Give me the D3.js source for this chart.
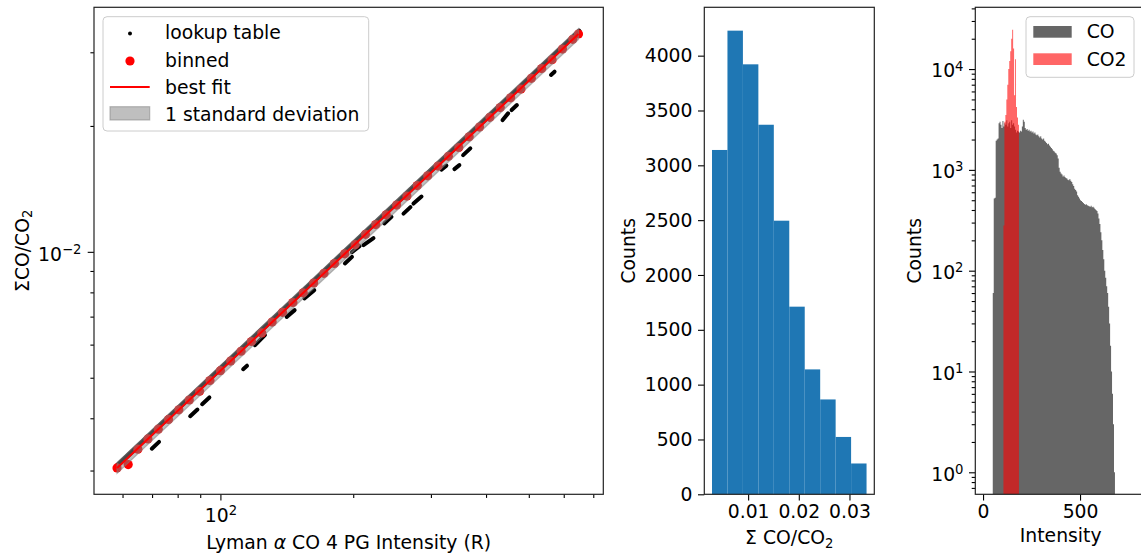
<!DOCTYPE html>
<html lang="en">
<head>
<meta charset="utf-8">
<title>CO/CO2 lookup</title>
<script src="https://d3js.org/d3.v7.min.js"></script>
<style>
  body { margin: 0; background: #fff; }
  text { font-family: "DejaVu Sans", sans-serif; }
</style>
</head>
<body>
<script>
// ---- panel 1: ratio vs Lyman alpha intensity (log-log)
var lutMainI = [58.5, 70, 85, 100, 130, 170, 220, 290, 380, 500, 650];
var lutMainR = [0.003090, 0.003692, 0.004474, 0.005257, 0.006822, 0.008902, 0.011498, 0.015126, 0.019772, 0.025961, 0.033681];
// offset clusters of lookup table points (start / end of each short run)
var dashI0 = [69.9, 85.4, 90.9, 112.6, 119.8, 141.3, 155.0, 191.5, 198.6, 211.0, 235.2, 260.0, 273.9, 316.9, 339.1, 354.9, 436.2, 457.1, 561.4];
var dashR0 = [0.003383, 0.004045, 0.004322, 0.00524, 0.005981, 0.006991, 0.007736, 0.009381, 0.009983, 0.010376, 0.011693, 0.012343, 0.013043, 0.015727, 0.015768, 0.017031, 0.020654, 0.021827, 0.026473];
var dashI1 = [72.6, 88.7, 94.4, 114.9, 126.1, 147.3, 163.2, 198.7, 206.7, 222.3, 244.2, 269.6, 285.6, 325.2, 348.0, 368.5, 448.7, 469.9, 571.9];
var dashR1 = [0.003512, 0.004198, 0.004485, 0.005342, 0.006322, 0.007254, 0.008098, 0.009728, 0.01032, 0.010784, 0.012127, 0.012793, 0.013555, 0.016075, 0.016119, 0.017673, 0.021432, 0.022439, 0.02696];

var binI = [58.3, 61.8, 65.0, 68.5, 72.3, 76.3, 80.5, 85.0, 89.7, 94.7, 100, 105.5, 111.4, 117.6, 124.1, 131.0, 138.3, 146.0, 154.1, 162.7, 171.7, 181.3, 191.3, 202.0, 213.2, 225.0, 237.6, 250.8, 264.7, 279.4, 295.0, 311.4, 328.7, 347.0, 366.3, 386.6, 408.1, 430.8, 454.8, 480.0, 506.7, 534.9, 564.6, 596.0, 629.1, 648.0];
var binR = [0.003043, 0.00310, 0.003375, 0.003571, 0.003767, 0.003974, 0.004191, 0.004423, 0.004640, 0.004924, 0.005197, 0.005481, 0.005785, 0.006104, 0.006400, 0.006794, 0.007169, 0.007565, 0.007981, 0.008423, 0.008885, 0.009378, 0.009891, 0.010400, 0.011013, 0.011618, 0.012263, 0.012939, 0.013590, 0.014402, 0.015199, 0.016037, 0.016921, 0.017760, 0.018840, 0.019876, 0.020972, 0.022129, 0.023352, 0.024500, 0.025994, 0.027429, 0.028800, 0.030536, 0.032218, 0.033178];

var fitI = [58.3, 648];
var fitR = [0.003043, 0.033178];

var sdI  = [58.3, 100, 200, 400, 648];
var sdLo = [0.002952, 0.005039, 0.01002, 0.01994, 0.03218];
var sdHi = [0.003134, 0.005351, 0.01064, 0.02118, 0.03417];

var x1Major = [100];
var x1Minor = [60, 70, 80, 90, 200, 300, 400, 500, 600, 700];
var y1Major = [0.01];
var y1Minor = [0.003, 0.004, 0.005, 0.006, 0.007, 0.008, 0.009, 0.02, 0.03];

// ---- panel 2: histogram of ratio
var ratioEdges  = [0.00287, 0.00592, 0.00897, 0.01202, 0.01507, 0.01812, 0.02117, 0.02422, 0.02727, 0.03032, 0.03337];
var ratioCounts = [3140, 4228, 3921, 3370, 2495, 1711, 1139, 865, 523, 281];
var x2Ticks = [0.01, 0.02, 0.03];
var y2Ticks = [0, 500, 1000, 1500, 2000, 2500, 3000, 3500, 4000];

// ---- panel 3: intensity histograms (bins of 5 R)
var binW = 5;
var coStart = 50;
var coCounts = [60, 520, 530, 1950, 2000, 2050, 2900, 3000, 2800, 2600,
  3050, 2700, 2900, 2800, 3100, 2700, 2900, 3000, 2600, 3100,
  2800, 2900, 2700, 2500, 2350, 2450, 2400, 2350, 2450, 2400,
  2700, 3150, 3000, 2600, 2500, 2550, 2450, 2500, 2400, 2450,
  2350, 2400, 2300, 2350, 2250, 2200, 2250, 2150, 2100, 2150,
  2050, 2000, 2050, 1950, 1900, 1850, 1800, 1820, 1750, 1700,
  1650, 1600, 1550, 1520, 1480, 1450, 1400, 1300, 1050, 960,
  920, 900, 860, 880, 850, 830, 820, 800, 790, 810,
  780, 760, 720, 690, 650, 630, 610, 560, 540, 520,
  500, 490, 480, 470, 460, 450, 455, 445, 440, 435,
  430, 440, 425, 430, 420, 410, 400, 390, 370, 330,
  290, 240, 200, 160, 130, 100, 85, 70, 60, 44,
  30, 18, 10, 6, 3, 1];
var co2Start = 105;
var co2Counts = [280, 3000, 3500, 5000, 7000, 10000, 12000, 15000, 20000, 24500, 16000, 5500, 12500, 4200, 3300, 2800];
var x3Ticks = [0, 500];
var y3Major = [1, 10, 100, 1000, 10000];
var y3Minor = [0.7, 0.8, 0.9, 2, 3, 4, 5, 6, 7, 8, 9, 20, 30, 40, 50, 60, 70, 80, 90,
  200, 300, 400, 500, 600, 700, 800, 900, 2000, 3000, 4000, 5000, 6000, 7000, 8000, 9000,
  20000, 30000, 40000];

var w = 1141, h = 555;
var yTop = 7.3, yBot = 494.3;
var p1 = {l: 94, r: 603.3}, p2 = {l: 704.3, r: 874.3}, p3 = {l: 975.3, r: 1146};
var fs = 18.8, fsSup = 13.2;

var svg = d3.select("body").append("svg")
  .attr("width", w).attr("height", h)
  .style("font-size", fs + "px");

var x1 = d3.scaleLog().domain([51.7, 737.6]).range([p1.l, p1.r]);
var y1 = d3.scaleLog().domain([0.002632, 0.03843]).range([yBot, yTop]);
var x2 = d3.scaleLinear().domain([0.00135, 0.0349]).range([p2.l, p2.r]);
var y2 = d3.scaleLinear().domain([0, 4441]).range([yBot, yTop]);
var x3 = d3.scaleLinear().domain([-40, 840]).range([p3.l, p3.r]);
var y3 = d3.scaleLog().domain([0.605, 41000]).range([yBot, yTop]);

function styleAxis(g) {
  g.attr("font-size", null).attr("font-family", null);
  g.select(".domain").remove();
  g.selectAll(".tick line").attr("stroke", "#000").attr("stroke-width", 1.1);
  g.selectAll(".tick text").attr("fill", "#000");
  return g;
}
function powLabels(g, exps) {
  g.selectAll(".tick text").each(function(d, i) {
    var t = d3.select(this).text(null);
    t.append("tspan").text("10");
    t.append("tspan").attr("dy", -6.8).style("font-size", fsSup + "px").text(exps[i]);
  });
}

var defs = svg.append("defs");
defs.append("clipPath").attr("id", "c1").append("rect")
  .attr("x", p1.l).attr("y", yTop).attr("width", p1.r - p1.l).attr("height", yBot - yTop);
defs.append("clipPath").attr("id", "c3").append("rect")
  .attr("x", p3.l).attr("y", yTop).attr("width", p3.r - p3.l).attr("height", yBot - yTop);

// ================= panel 1
var g1 = svg.append("g").attr("clip-path", "url(#c1)");
var lineGen = d3.line().x(d => x1(d[0])).y(d => y1(d[1]));

g1.append("path")
  .attr("d", lineGen(lutMainI.map((v, i) => [v, lutMainR[i]])))
  .attr("fill", "none").attr("stroke", "#111").attr("stroke-width", 5)
  .attr("stroke-linecap", "round");

g1.selectAll("line.dash").data(dashI0).enter().append("line")
  .attr("class", "dash")
  .attr("x1", (d, i) => x1(dashI0[i])).attr("y1", (d, i) => y1(dashR0[i]))
  .attr("x2", (d, i) => x1(dashI1[i])).attr("y2", (d, i) => y1(dashR1[i]))
  .attr("stroke", "#000").attr("stroke-width", 4).attr("stroke-linecap", "round");

g1.selectAll("circle.bin").data(binI).enter().append("circle")
  .attr("class", "bin")
  .attr("cx", d => x1(d)).attr("cy", (d, i) => y1(binR[i]))
  .attr("r", 4.6).attr("fill", "#ff0000");

var band = d3.area().x(d => x1(d[0])).y0(d => y1(d[1])).y1(d => y1(d[2]));
g1.append("path")
  .attr("d", band(sdI.map((v, i) => [v, sdLo[i], sdHi[i]])))
  .attr("fill", "#808080").attr("fill-opacity", 0.5)
  .attr("stroke", "#808080").attr("stroke-opacity", 0.5).attr("stroke-width", 1.2);

g1.append("path")
  .attr("d", lineGen(fitI.map((v, i) => [v, fitR[i]])))
  .attr("fill", "none").attr("stroke", "#ff0000").attr("stroke-width", 2);

var ax = svg.append("g").attr("transform", `translate(0,${yBot})`)
  .call(d3.axisBottom(x1).tickValues(x1Major).tickSize(6.3).tickSizeOuter(0).tickPadding(4.6));
styleAxis(ax);
ax.selectAll(".tick text").attr("y", 28).attr("dy", 0);
powLabels(ax, ["2"]);
styleAxis(svg.append("g").attr("transform", `translate(0,${yBot})`)
  .call(d3.axisBottom(x1).tickValues(x1Minor).tickSize(3.6).tickSizeOuter(0).tickFormat("")));

var ay = svg.append("g").attr("transform", `translate(${p1.l},0)`)
  .call(d3.axisLeft(y1).tickValues(y1Major).tickSize(6.3).tickSizeOuter(0).tickPadding(6.3));
styleAxis(ay);
ay.selectAll(".tick text").attr("dy", "0.44em");
powLabels(ay, ["\u22122"]);
styleAxis(svg.append("g").attr("transform", `translate(${p1.l},0)`)
  .call(d3.axisLeft(y1).tickValues(y1Minor).tickSize(3.6).tickSizeOuter(0).tickFormat("")));

// legend 1
var lg = svg.append("g");
lg.append("rect").attr("x", 103).attr("y", 16.7).attr("width", 265.7).attr("height", 114.3)
  .attr("rx", 4).attr("fill", "#fff").attr("fill-opacity", 0.8)
  .attr("stroke", "#cccccc").attr("stroke-width", 1);
lg.append("circle").attr("cx", 130).attr("cy", 33.5).attr("r", 2).attr("fill", "#000");
lg.append("circle").attr("cx", 130).attr("cy", 61).attr("r", 4.6).attr("fill", "#ff0000");
lg.append("line").attr("x1", 110).attr("x2", 149.7).attr("y1", 87).attr("y2", 87)
  .attr("stroke", "#ff0000").attr("stroke-width", 2);
lg.append("rect").attr("x", 110).attr("y", 106.7).attr("width", 39.7).attr("height", 13.3)
  .attr("fill", "#808080").attr("fill-opacity", 0.5)
  .attr("stroke", "#808080").attr("stroke-opacity", 0.5).attr("stroke-width", 1.2);
var legTexts = ["lookup table", "binned", "best fit", "1 standard deviation"];
var legBase = [39, 66.7, 94, 120.7];
lg.selectAll("text").data(legTexts).enter().append("text")
  .attr("x", 165).attr("y", (d, i) => legBase[i]).text(d => d);

// ================= panel 2
svg.append("g").selectAll("rect").data(ratioCounts).enter().append("rect")
  .attr("x", (d, i) => x2(ratioEdges[i]))
  .attr("width", (d, i) => x2(ratioEdges[i + 1]) - x2(ratioEdges[i]))
  .attr("y", d => y2(d))
  .attr("height", d => y2(0) - y2(d))
  .attr("fill", "#1f77b4");

styleAxis(svg.append("g").attr("transform", `translate(0,${yBot})`)
  .call(d3.axisBottom(x2).tickValues(x2Ticks).tickSize(6.3).tickSizeOuter(0).tickPadding(4.2)
    .tickFormat(d3.format(".2f"))));
styleAxis(svg.append("g").attr("transform", `translate(${p2.l},0)`)
  .call(d3.axisLeft(y2).tickValues(y2Ticks).tickSize(6.3).tickSizeOuter(0).tickPadding(5.5)
    .tickFormat(d3.format("d"))));

// ================= panel 3
function histPts(start, counts) {
  var pts = [[x3(start), yBot]];
  counts.forEach(function(c, i) {
    var lo = start + i * binW;
    pts.push([x3(lo), y3(c)], [x3(lo + binW), y3(c)]);
  });
  pts.push([x3(start + counts.length * binW), yBot]);
  return pts;
}
var g3 = svg.append("g").attr("clip-path", "url(#c3)");
g3.append("path").attr("d", d3.line()(histPts(coStart, coCounts)) + "Z")
  .attr("fill", "#000").attr("fill-opacity", 0.6);
g3.append("path").attr("d", d3.line()(histPts(co2Start, co2Counts)) + "Z")
  .attr("fill", "#ff0000").attr("fill-opacity", 0.6);

styleAxis(svg.append("g").attr("transform", `translate(0,${yBot})`)
  .call(d3.axisBottom(x3).tickValues(x3Ticks).tickSize(6.3).tickSizeOuter(0).tickPadding(4.2)
    .tickFormat(d3.format("d"))));
var ay3 = svg.append("g").attr("transform", `translate(${p3.l},0)`)
  .call(d3.axisLeft(y3).tickValues(y3Major).tickSize(6.3).tickSizeOuter(0).tickPadding(5.5));
styleAxis(ay3);
ay3.selectAll(".tick text").attr("dy", "0.42em");
powLabels(ay3, ["0", "1", "2", "3", "4"]);
styleAxis(svg.append("g").attr("transform", `translate(${p3.l},0)`)
  .call(d3.axisLeft(y3).tickValues(y3Minor).tickSize(3.6).tickSizeOuter(0).tickFormat("")));

// legend 3
var lg3 = svg.append("g");
lg3.append("rect").attr("x", 1026).attr("y", 16.7).attr("width", 108).attr("height", 60.6)
  .attr("rx", 4).attr("fill", "#fff").attr("fill-opacity", 0.8)
  .attr("stroke", "#cccccc").attr("stroke-width", 1);
lg3.append("rect").attr("x", 1033.3).attr("y", 26).attr("width", 38.4).attr("height", 11.7)
  .attr("fill", "#000").attr("fill-opacity", 0.6);
lg3.append("rect").attr("x", 1033.3).attr("y", 53.3).attr("width", 38.4).attr("height", 11.7)
  .attr("fill", "#ff0000").attr("fill-opacity", 0.6);
lg3.append("text").attr("x", 1086.7).attr("y", 38.3).text("CO");
lg3.append("text").attr("x", 1086.7).attr("y", 66).text("CO2");

// ================= frames
[p1, p2, p3].forEach(function(p) {
  svg.append("rect").attr("x", p.l).attr("y", yTop)
    .attr("width", p.r - p.l).attr("height", yBot - yTop)
    .attr("fill", "none").attr("stroke", "#222").attr("stroke-width", 1.2);
});

// ================= labels
var xl1 = svg.append("text").attr("x", (p1.l + p1.r) / 2).attr("y", 549).attr("text-anchor", "middle");
xl1.append("tspan").text("Lyman ");
xl1.append("tspan").style("font-style", "italic").text("\u03b1");
xl1.append("tspan").text(" CO 4 PG Intensity (R)");

var xl2 = svg.append("text").attr("x", (p2.l + p2.r) / 2).attr("y", 544).attr("text-anchor", "middle");
xl2.append("tspan").text("\u03a3 CO/CO");
xl2.append("tspan").attr("dy", 3.5).style("font-size", fsSup + "px").text("2");

svg.append("text").attr("x", 1060.7).attr("y", 541.7).attr("text-anchor", "middle").text("Intensity");

var yl1 = svg.append("text").attr("transform", `translate(28.5,${(yTop + yBot) / 2}) rotate(-90)`)
  .attr("text-anchor", "middle");
yl1.append("tspan").text("\u03a3CO/CO");
yl1.append("tspan").attr("dy", 3.5).style("font-size", fsSup + "px").text("2");

svg.append("text").attr("transform", `translate(634.5,${(yTop + yBot) / 2}) rotate(-90)`)
  .attr("text-anchor", "middle").text("Counts");
svg.append("text").attr("transform", `translate(921,${(yTop + yBot) / 2}) rotate(-90)`)
  .attr("text-anchor", "middle").text("Counts");
</script>
</body>
</html>
